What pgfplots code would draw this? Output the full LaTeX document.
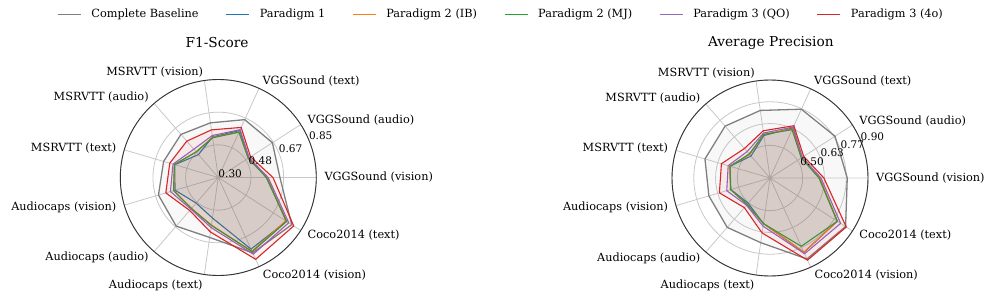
\documentclass[border=0pt]{standalone}
\usepackage{fontspec}
\setmainfont{DejaVu Serif}
\usepackage{pgfplots}
\pgfplotsset{compat=1.18}
\usepackage{pgfplotstable}
\usepgfplotslibrary{polar}

\definecolor{cbase}{HTML}{7F7F7F}
\definecolor{cblue}{HTML}{1F77B4}
\definecolor{corange}{HTML}{FF7F0E}
\definecolor{cgreen}{HTML}{2CA02C}
\definecolor{cpurple}{HTML}{9467BD}
\definecolor{cred}{HTML}{D62728}
\definecolor{cgrid}{HTML}{C8C8C8}

% F1-Score
\pgfplotstableread{
k base pone ptwoib ptwomj pthreeqo pthreeo
0  0.646 0.570 0.575 0.570 0.580 0.607
1  0.661 0.505 0.500 0.500 0.505 0.515
2  0.657 0.590 0.580 0.580 0.595 0.609
3  0.610 0.530 0.528 0.525 0.538 0.570
4  0.620 0.470 0.490 0.490 0.510 0.570
5  0.620 0.555 0.557 0.557 0.565 0.584
6  0.650 0.553 0.560 0.562 0.580 0.607
7  0.661 0.490 0.530 0.530 0.535 0.545
8  0.640 0.530 0.570 0.572 0.584 0.609
9  0.765 0.742 0.755 0.758 0.773 0.805
10 0.790 0.755 0.750 0.756 0.770 0.803
}\datF

% Average Precision
\pgfplotstableread{
k base pone ptwoib ptwomj pthreeqo pthreeo
0  0.773 0.602 0.605 0.600 0.612 0.630
1  0.773 0.530 0.530 0.528 0.535 0.545
2  0.763 0.637 0.630 0.625 0.643 0.652
3  0.718 0.563 0.570 0.570 0.578 0.592
4  0.720 0.478 0.490 0.494 0.514 0.539
5  0.715 0.555 0.557 0.555 0.567 0.610
6  0.690 0.550 0.552 0.552 0.576 0.623
7  0.700 0.504 0.514 0.514 0.520 0.540
8  0.700 0.582 0.582 0.582 0.598 0.640
9  0.845 0.800 0.800 0.760 0.810 0.853
10 0.850 0.790 0.790 0.790 0.814 0.855
}\datA

\pgfplotsset{
  radar/.style={
    width=196bp, height=196bp, scale only axis, anchor=center,
    xtick={0,32.72727,65.45455,98.18182,130.90909,163.63636,196.36364,229.09091,261.81818,294.54545,327.27273},
    xticklabels={}, yticklabels={},
    xmajorgrids, ymajorgrids,
    major grid style={cgrid, line width=0.8bp},
    x axis line style={draw=black!80, line width=0.9bp},
    y axis line style={draw=none},
    major tick length=0pt,
    clip=false,
  },
  ser/.style={line width=1.1bp, draw=#1, fill=#1, fill opacity=0.07},
}
\newcommand{\catfont}{\fontsize{11.3bp}{13bp}\selectfont}
\newcommand{\rfont}{\fontsize{10.5bp}{12bp}\selectfont}

\begin{document}
\begin{tikzpicture}
\useasboundingbox (0,0) rectangle (996bp,297bp);

% legend holder
\begin{axis}[at={(0,0)}, anchor=south west, width=996bp, height=297bp, scale only axis,
  xmin=0, xmax=1, ymin=0, ymax=1, hide axis,
  legend columns=6,
  legend style={at={(0.503,0.952)}, anchor=center, draw=none, fill=none,
    font=\catfont,
    /tikz/every odd column/.append style={column sep=8bp},
    /tikz/every even column/.append style={column sep=25bp}},
  legend image code/.code={\draw[#1] (0bp,0bp) -- (23bp,0bp);}]
\addlegendimage{cbase, line width=1.3bp}\addlegendentry{Complete Baseline}
\addlegendimage{cblue, line width=1.1bp}\addlegendentry{Paradigm 1}
\addlegendimage{corange, line width=1.1bp}\addlegendentry{Paradigm 2 (IB)}
\addlegendimage{cgreen, line width=1.1bp}\addlegendentry{Paradigm 2 (MJ)}
\addlegendimage{cpurple, line width=1.1bp}\addlegendentry{Paradigm 3 (QO)}
\addlegendimage{cred, line width=1.1bp}\addlegendentry{Paradigm 3 (4o)}
\end{axis}

% F1-Score radar
\begin{polaraxis}[radar, at={(218.3bp,119.5bp)}, ymin=0, ymax=0.55,
  ytick={0.18333,0.36667,0.55}]
\addplot[ser=cbase, line width=1.3bp, fill opacity=0.05] table[x expr=\coordindex*32.727273, y expr=\thisrow{base}-0.3] {\datF} -- cycle;
\addplot[ser=cblue] table[x expr=\coordindex*32.727273, y expr=\thisrow{pone}-0.3] {\datF} -- cycle;
\addplot[ser=corange] table[x expr=\coordindex*32.727273, y expr=\thisrow{ptwoib}-0.3] {\datF} -- cycle;
\addplot[ser=cgreen] table[x expr=\coordindex*32.727273, y expr=\thisrow{ptwomj}-0.3] {\datF} -- cycle;
\addplot[ser=cpurple] table[x expr=\coordindex*32.727273, y expr=\thisrow{pthreeqo}-0.3] {\datF} -- cycle;
\addplot[ser=cred] table[x expr=\coordindex*32.727273, y expr=\thisrow{pthreeo}-0.3] {\datF} -- cycle;
\node[font=\rfont, anchor=south west, inner sep=0pt] at (axis cs:22.5,0) {0.30};
\node[font=\rfont, anchor=south west, inner sep=0pt] at (axis cs:22.5,0.18333) {0.48};
\node[font=\rfont, anchor=south west, inner sep=0pt] at (axis cs:22.5,0.36667) {0.67};
\node[font=\rfont, anchor=south west, inner sep=0pt] at (axis cs:22.5,0.55) {0.85};
\node[font=\catfont, anchor=west, inner sep=0pt] at (axis cs:0,0.595) {VGGSound (vision)};
\node[font=\catfont, anchor=west, inner sep=0pt] at (axis cs:32.72727,0.595) {VGGSound (audio)};
\node[font=\catfont, anchor=west, inner sep=0pt] at (axis cs:65.45455,0.595) {VGGSound (text)};
\node[font=\catfont, anchor=east, inner sep=0pt] at (axis cs:98.18182,0.595) {MSRVTT (vision)};
\node[font=\catfont, anchor=east, inner sep=0pt] at (axis cs:130.90909,0.595) {MSRVTT (audio)};
\node[font=\catfont, anchor=east, inner sep=0pt] at (axis cs:163.63636,0.595) {MSRVTT (text)};
\node[font=\catfont, anchor=east, inner sep=0pt] at (axis cs:196.36364,0.595) {Audiocaps (vision)};
\node[font=\catfont, anchor=east, inner sep=0pt] at (axis cs:229.09091,0.595) {Audiocaps (audio)};
\node[font=\catfont, anchor=east, inner sep=0pt] at (axis cs:261.81818,0.61) {Audiocaps (text)};
\node[font=\catfont, anchor=west, inner sep=0pt] at (axis cs:294.54545,0.6) {Coco2014 (vision)};
\node[font=\catfont, anchor=west, inner sep=0pt] at (axis cs:327.27273,0.595) {Coco2014 (text)};
\end{polaraxis}

% Average Precision radar
\begin{polaraxis}[radar, at={(770bp,119bp)}, ymin=0, ymax=0.6,
  ytick={0.2,0.33333,0.46667,0.6}]
\addplot[ser=cbase, line width=1.3bp, fill opacity=0.05] table[x expr=\coordindex*32.727273, y expr=\thisrow{base}-0.3] {\datA} -- cycle;
\addplot[ser=cblue] table[x expr=\coordindex*32.727273, y expr=\thisrow{pone}-0.3] {\datA} -- cycle;
\addplot[ser=corange] table[x expr=\coordindex*32.727273, y expr=\thisrow{ptwoib}-0.3] {\datA} -- cycle;
\addplot[ser=cgreen] table[x expr=\coordindex*32.727273, y expr=\thisrow{ptwomj}-0.3] {\datA} -- cycle;
\addplot[ser=cpurple] table[x expr=\coordindex*32.727273, y expr=\thisrow{pthreeqo}-0.3] {\datA} -- cycle;
\addplot[ser=cred] table[x expr=\coordindex*32.727273, y expr=\thisrow{pthreeo}-0.3] {\datA} -- cycle;
\node[font=\rfont, anchor=south west, inner sep=0pt] at (axis cs:22.5,0.2) {0.50};
\node[font=\rfont, anchor=south west, inner sep=0pt] at (axis cs:22.5,0.33333) {0.63};
\node[font=\rfont, anchor=south west, inner sep=0pt] at (axis cs:22.5,0.46667) {0.77};
\node[font=\rfont, anchor=south west, inner sep=0pt] at (axis cs:22.5,0.6) {0.90};
\node[font=\catfont, anchor=west, inner sep=0pt] at (axis cs:0,0.649) {VGGSound (vision)};
\node[font=\catfont, anchor=west, inner sep=0pt] at (axis cs:32.72727,0.649) {VGGSound (audio)};
\node[font=\catfont, anchor=west, inner sep=0pt] at (axis cs:65.45455,0.649) {VGGSound (text)};
\node[font=\catfont, anchor=east, inner sep=0pt] at (axis cs:98.18182,0.649) {MSRVTT (vision)};
\node[font=\catfont, anchor=east, inner sep=0pt] at (axis cs:130.90909,0.649) {MSRVTT (audio)};
\node[font=\catfont, anchor=east, inner sep=0pt] at (axis cs:163.63636,0.649) {MSRVTT (text)};
\node[font=\catfont, anchor=east, inner sep=0pt] at (axis cs:196.36364,0.649) {Audiocaps (vision)};
\node[font=\catfont, anchor=east, inner sep=0pt] at (axis cs:229.09091,0.649) {Audiocaps (audio)};
\node[font=\catfont, anchor=east, inner sep=0pt] at (axis cs:261.81818,0.665) {Audiocaps (text)};
\node[font=\catfont, anchor=west, inner sep=0pt] at (axis cs:294.54545,0.655) {Coco2014 (vision)};
\node[font=\catfont, anchor=west, inner sep=0pt] at (axis cs:327.27273,0.649) {Coco2014 (text)};
\end{polaraxis}

\node[font=\fontsize{13.7bp}{16bp}\selectfont] at (217bp,254.5bp) {F1-Score};
\node[font=\fontsize{13.7bp}{16bp}\selectfont] at (770.8bp,254.3bp) {Average Precision};
\end{tikzpicture}
\end{document}
